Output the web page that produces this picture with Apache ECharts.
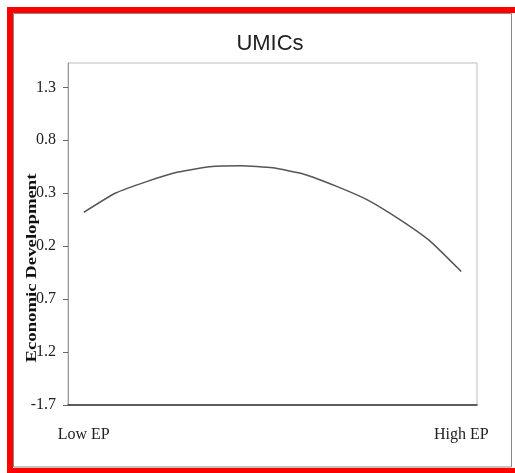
<!DOCTYPE html>
<html>
<head>
<meta charset="utf-8">
<script src="https://cdn.jsdelivr.net/npm/echarts@6/dist/echarts.min.js"></script>
<style>
html,body{margin:0;padding:0;background:#fff;}
#c{width:515px;height:473px;}
</style>
</head>
<body>
<div id="c"></div>
<script>
// Data
var categories = ['1','2','3','4','5','6','7','8','9','10','11','12','13'];
var xTickLabels = ['Low EP','','','','','','','','','','','','High EP'];
var devValues = [0.12, 0.30, 0.41, 0.50, 0.55, 0.56, 0.54, 0.48, 0.37, 0.24, 0.06, -0.15, -0.44];
var yTickValues = [-1.7, -1.2, -0.7, -0.2, 0.3, 0.8, 1.3];
var yTickLabels = ['-1.7', '1.2', '0.7', '0.2', '0.3', '0.8', '1.3'];
var titleText = 'UMICs';
var yAxisTitle = 'Economic Development';

var chart = echarts.init(document.getElementById('c'), null, {renderer: 'canvas'});
var serif = '"Liberation Serif", "DejaVu Serif", serif';
var option = {
  backgroundColor: '#fff',
  animation: false,
  title: {
    text: titleText,
    left: 265,
    top: 28,
    textAlign: 'center',
    textStyle: {fontFamily: '"Liberation Sans Narrow", "Liberation Sans", Arial, sans-serif', fontSize: 22, fontWeight: 'normal', color: '#222'}
  },
  grid: {left: 68, right: 38, top: 63, bottom: 68, show: true, borderColor: '#bdbdbd', borderWidth: 1, backgroundColor: '#fff'},
  xAxis: {
    type: 'category',
    data: categories,
    boundaryGap: true,
    axisLine: {onZero: false, lineStyle: {color: '#333', width: 1.5}},
    axisTick: {show: false},
    axisLabel: {
      interval: 0, margin: 22, color: '#222', fontFamily: serif, fontSize: 16,
      formatter: function (v, i) { return xTickLabels[i]; }
    },
    splitLine: {show: false}
  },
  yAxis: {
    type: 'value',
    min: -1.7,
    max: 1.53,
    axisLine: {show: true, lineStyle: {color: '#999', width: 1}},
    axisTick: {show: true, length: 5, lineStyle: {color: '#666'}, customValues: yTickValues},
    axisLabel: {
      margin: 12, color: '#222', fontFamily: serif, fontSize: 16,
      customValues: yTickValues,
      formatter: function (v) {
        for (var i = 0; i < yTickValues.length; i++) {
          if (Math.abs(yTickValues[i] - v) < 1e-6) return yTickLabels[i];
        }
        return '';
      }
    },
    splitLine: {show: false}
  },
  series: [{
    type: 'line',
    data: devValues,
    symbol: 'none',
    smooth: 0.15,
    lineStyle: {color: '#555', width: 1.5}
  }],
  graphic: [
    {type: 'rect', shape: {x: 10, y: 10, width: 515, height: 461}, style: {fill: null, stroke: '#ff0000', lineWidth: 6}, z: 100},
    {type: 'rect', shape: {x: 13.5, y: 13.5, width: 498, height: 453.5}, style: {fill: null, stroke: '#888', lineWidth: 1}, z: 100},
    {type: 'text', x: 32, y: 268, rotation: Math.PI / 2, scaleX: 1.25,
      style: {text: yAxisTitle, font: 'bold 15px ' + serif, fill: '#111', align: 'center', verticalAlign: 'middle'}, z: 100}
  ]
};
chart.setOption(option);
</script>
</body>
</html>
